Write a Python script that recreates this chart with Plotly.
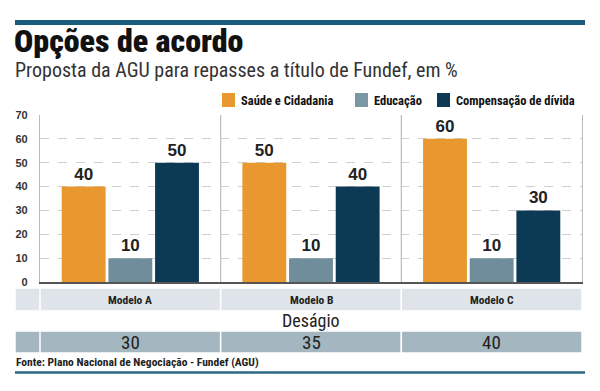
import plotly.graph_objects as go

# ---- data ----
modelos = ["Modelo A", "Modelo B", "Modelo C"]
saude = [40, 50, 60]
educacao = [10, 10, 10]
compensacao = [50, 40, 30]
desagio = [30, 35, 40]
series_names = ["Saúde e Cidadania", "Educação", "Compensação de dívida"]
y_ticks = [0, 10, 20, 30, 40, 50, 60, 70]

title = "Opções de acordo"
subtitle = "Proposta da AGU para repasses a título de Fundef, em %"
source = "Fonte: Plano Nacional de Negociação - Fundef (AGU)"

# ---- style ----
W, H = 600, 391
L, R, T, B = 40, 18, 115, 109
PW, PH = W - L - R, H - T - B
ORANGE = "#E8982F"
GRAY = "#6F8D9B"
NAVY = "#0C3A55"
RULE = "#1B5C7D"
FONT = "Roboto, Open Sans, sans-serif"
SANS = "Liberation Sans, Arial, sans-serif"


def cond(t):
    return '<span style="font-stretch:condensed">' + t + '</span>'


def px(xp):
    return (xp - L) / PW


def py(yp):
    return (H - B - yp) / PH


fig = go.Figure()
for name, vals, col in zip(series_names, [saude, educacao, compensacao], [ORANGE, GRAY, NAVY]):
    fig.add_trace(go.Bar(
        x=modelos, y=vals, name=name, marker=dict(color=col, line=dict(width=0)),
        text=vals, textposition="outside", cliponaxis=False,
        textfont=dict(family=SANS, size=17, color="#222", weight="bold"),
        showlegend=False,
    ))

shapes = []
annotations = []

# top and bottom rules
shapes.append(dict(type="line", xref="paper", yref="paper", x0=px(15), x1=px(585), y0=py(22.5), y1=py(22.5),
                   line=dict(color=RULE, width=5)))
shapes.append(dict(type="line", xref="paper", yref="paper", x0=px(15), x1=px(585), y0=py(372.5), y1=py(372.5),
                   line=dict(color="#2A6A85", width=2.5)))

# title & subtitle
annotations.append(dict(text=cond(title), xref="paper", yref="paper", x=px(13), y=py(61),
                        xanchor="left", yanchor="bottom", showarrow=False, borderpad=0,
                        font=dict(family=FONT, size=32, color="#111", weight=900)))
annotations.append(dict(text=cond(subtitle), xref="paper", yref="paper", x=px(14), y=py(83),
                        xanchor="left", yanchor="bottom", showarrow=False, borderpad=0,
                        font=dict(family=FONT, size=20, color="#333")))

# legend (manual)
leg_x = [222, 355, 437]
for xs, name, col in zip(leg_x, series_names, [ORANGE, "#7B97A6", NAVY]):
    shapes.append(dict(type="rect", xref="paper", yref="paper", x0=px(xs), x1=px(xs + 13),
                       y0=py(107), y1=py(93), fillcolor=col, line=dict(width=0)))
    annotations.append(dict(text=cond(name), xref="paper", yref="paper", x=px(xs + 17), y=py(100),
                            xanchor="left", yanchor="middle", showarrow=False,
                            font=dict(family=FONT, size=12.5, color="#111", weight="bold")))

# vertical separators between models
for i in range(len(modelos) - 1):
    shapes.append(dict(type="line", xref="x", yref="paper", x0=i + 0.5, x1=i + 0.5, y0=0, y1=1,
                       line=dict(color="#BBBBBB", width=1.2), layer="below"))

# table rows
row1 = (288, 311)
row2 = (331, 353)
for (y0p, y1p), fill in [(row1, "#DEE4E9"), (row2, "#A4B6C0")]:
    shapes.append(dict(type="rect", xref="paper", yref="paper", x0=px(15), x1=px(40),
                       y0=py(y1p), y1=py(y0p), fillcolor=fill, line=dict(color="white", width=1.5)))
    for i in range(len(modelos)):
        shapes.append(dict(type="rect", xref="x", yref="paper", x0=i - 0.5, x1=i + 0.5,
                           y0=py(y1p), y1=py(y0p), fillcolor=fill, line=dict(color="white", width=1.5)))

for i, m in enumerate(modelos):
    annotations.append(dict(text=cond(m), xref="x", yref="paper", x=i, y=py(299.5),
                            xanchor="center", yanchor="middle", showarrow=False,
                            font=dict(family=FONT, size=11.5, color="#222", weight="bold")))
    annotations.append(dict(text=cond(str(desagio[i])), xref="x", yref="paper", x=i, y=py(342),
                            xanchor="center", yanchor="middle", showarrow=False,
                            font=dict(family=FONT, size=19, color="#222")))

annotations.append(dict(text=cond("Deságio"), xref="x", yref="paper", x=1, y=py(320),
                        xanchor="center", yanchor="middle", showarrow=False,
                        font=dict(family=FONT, size=18, color="#222")))
annotations.append(dict(text=cond(source), xref="paper", yref="paper", x=px(14), y=py(362),
                        xanchor="left", yanchor="middle", showarrow=False,
                        font=dict(family=FONT, size=11.5, color="#222", weight="bold")))

fig.update_layout(
    width=W, height=H,
    margin=dict(l=L, r=R, t=T, b=B, autoexpand=False),
    paper_bgcolor="white", plot_bgcolor="white",
    barmode="group", bargap=0.225, bargroupgap=0.06,
    shapes=shapes, annotations=annotations,
    showlegend=False,
    xaxis=dict(showticklabels=False, ticks="", showgrid=False, zeroline=False,
               showline=True, linecolor="#555", linewidth=2, range=[-0.5, 2.5]),
    yaxis=dict(range=[0, 70], tickvals=y_ticks, showgrid=True, gridcolor="#CFCFCF", griddash="dash",
               gridwidth=1, zeroline=False, showline=True, linecolor="#BBBBBB", linewidth=1.2, mirror=True,
               ticks="", ticklabelstandoff=9,
               tickfont=dict(family=SANS, size=11, color="#333", weight="bold")),
)

fig.write_html("out.html", config={"displayModeBar": False},
               post_script="document.body.style.margin='0';")
